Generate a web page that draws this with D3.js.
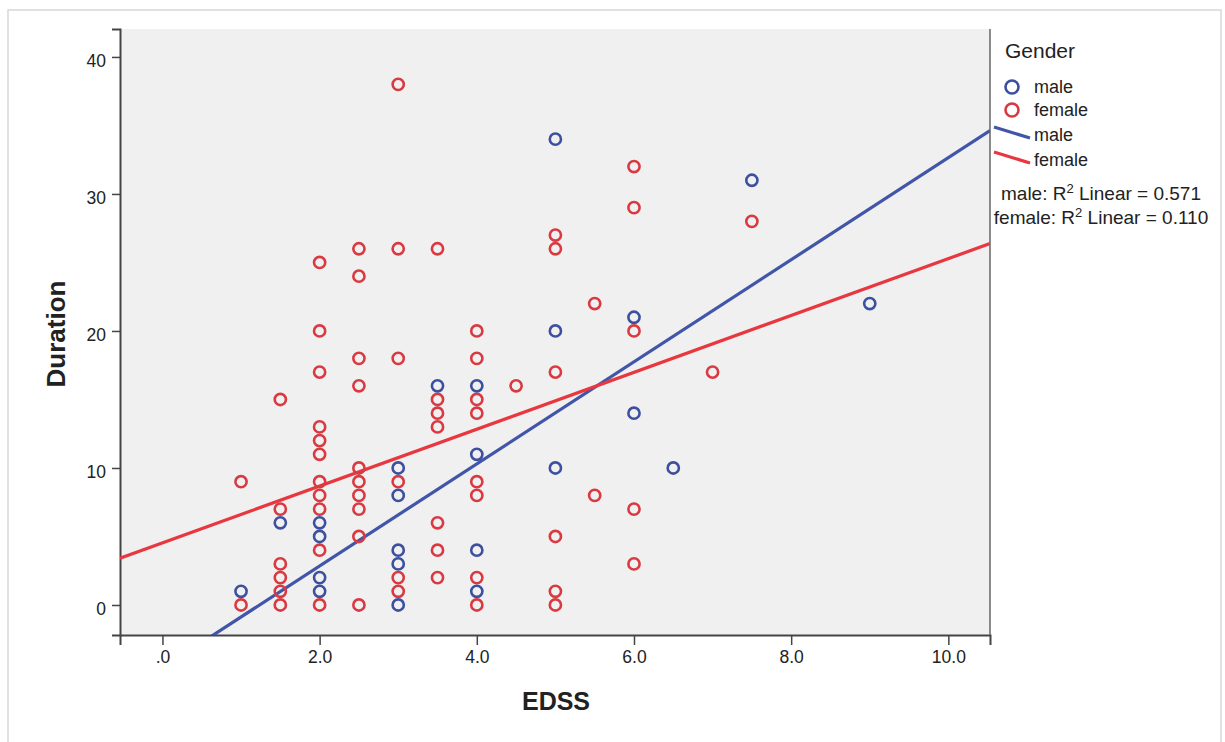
<!DOCTYPE html>
<html>
<head>
<meta charset="utf-8">
<script src="https://cdn.jsdelivr.net/npm/d3@7"></script>
<style>
  body { margin: 0; background: #fff; }
  text { font-family: "Liberation Sans", Arial, sans-serif; fill: #222; }
</style>
</head>
<body>
<div id="chart"></div>
<script>
// data
const maleEDSS     = [1, 1.5, 2, 2, 2, 2, 3, 3, 3, 3, 3, 3.5, 4, 4, 4, 4, 5, 5, 5, 6, 6, 6.5, 7.5, 9];
const maleDuration = [1, 6,   6, 5, 2, 1, 10, 8, 4, 3, 0, 16, 16, 11, 4, 1, 34, 20, 10, 21, 14, 10, 31, 22];

const femaleEDSS = [1, 1,
  1.5, 1.5, 1.5, 1.5, 1.5, 1.5,
  2, 2, 2, 2, 2, 2, 2, 2, 2, 2, 2,
  2.5, 2.5, 2.5, 2.5, 2.5, 2.5, 2.5, 2.5, 2.5, 2.5,
  3, 3, 3, 3, 3, 3,
  3.5, 3.5, 3.5, 3.5, 3.5, 3.5, 3.5,
  4, 4, 4, 4, 4, 4, 4, 4,
  4.5,
  5, 5, 5, 5, 5, 5,
  5.5, 5.5,
  6, 6, 6, 6, 6,
  7, 7.5];
const femaleDuration = [9, 0,
  15, 7, 3, 2, 1, 0,
  25, 20, 17, 13, 12, 11, 9, 8, 7, 4, 0,
  26, 24, 18, 16, 10, 9, 8, 7, 5, 0,
  38, 26, 18, 9, 2, 1,
  26, 15, 14, 13, 6, 4, 2,
  20, 18, 15, 14, 9, 8, 2, 0,
  16,
  27, 26, 17, 5, 1, 0,
  22, 8,
  32, 29, 20, 7, 3,
  17, 28];

// fit lines (intercept, slope) as drawn
const fitMale   = [-4.60, 3.725];
const fitFemale = [4.53, 2.075];

const xTicks = [0, 2, 4, 6, 8, 10];
const yTicks = [0, 10, 20, 30, 40];
const r2Labels = [["male: R", "0.571"], ["female: R", "0.110"]];

const blue = "#3d4f9f", red = "#d93a42";
const blueLine = "#4156a8", redLine = "#e8373f";

const W = 1225, H = 742;
const pLeft = 120, pRight = 990, pTop = 29, pBottom = 635;

const svg = d3.select("#chart").append("svg")
  .attr("width", W).attr("height", H);

// card frame
svg.append("rect")
  .attr("x", 8).attr("y", 10).attr("width", 1213).attr("height", 740)
  .attr("fill", "#fff").attr("stroke", "#d8d8d8").attr("stroke-width", 1.5);

const x = d3.scaleLinear().domain([-0.54, 10.53]).range([pLeft, pRight]);
const y = d3.scaleLinear().domain([-2.19, 42.04]).range([pBottom, pTop]);

svg.append("rect")
  .attr("x", pLeft).attr("y", pTop)
  .attr("width", pRight - pLeft).attr("height", pBottom - pTop)
  .attr("fill", "#f0f0f0");

svg.append("clipPath").attr("id", "clip")
  .append("rect")
  .attr("x", pLeft).attr("y", pTop)
  .attr("width", pRight - pLeft).attr("height", pBottom - pTop);

// axes
let xAxis = svg.append("g")
  .attr("transform", "translate(0," + pBottom + ")")
  .call(d3.axisBottom(x).tickValues(xTicks).tickSizeOuter(0).tickSize(10).tickPadding(6)
    .tickFormat(d => d === 0 ? ".0" : d3.format(".1f")(d)));
let yAxis = svg.append("g")
  .attr("transform", "translate(" + pLeft + ",0)")
  .call(d3.axisLeft(y).tickValues(yTicks).tickSizeOuter(0).tickSize(8).tickPadding(6));
[xAxis, yAxis].forEach(a => {
  a.select(".domain").attr("stroke", "#444").attr("stroke-width", 2);
  a.selectAll(".tick line").attr("stroke", "#444").attr("stroke-width", 1.5);
  a.selectAll(".tick text").attr("font-size", 17.5).attr("fill", "#333")
    .attr("font-family", "'Liberation Sans', Arial, sans-serif");
});
yAxis.selectAll(".tick text").attr("dy", "0.55em");
// right frame edge
svg.append("line")
  .attr("x1", pRight).attr("x2", pRight).attr("y1", pTop).attr("y2", pBottom)
  .attr("stroke", "#666").attr("stroke-width", 1.5);

svg.append("text")
  .attr("x", 556).attr("y", 710)
  .attr("text-anchor", "middle")
  .attr("font-size", 25).attr("font-weight", "bold")
  .text("EDSS");
svg.append("text")
  .attr("transform", "translate(65,334) rotate(-90)")
  .attr("text-anchor", "middle")
  .attr("font-size", 26).attr("font-weight", "bold")
  .text("Duration");

// fit lines
const plot = svg.append("g").attr("clip-path", "url(#clip)");
[[fitMale, blueLine], [fitFemale, redLine]].forEach(([f, c]) => {
  const xs = x.domain();
  plot.append("line")
    .attr("x1", x(xs[0])).attr("y1", y(f[0] + f[1] * xs[0]))
    .attr("x2", x(xs[1])).attr("y2", y(f[0] + f[1] * xs[1]))
    .attr("stroke", c).attr("stroke-width", 3.2);
});

// points
function drawPoints(xs, ys, color) {
  plot.append("g").selectAll("circle")
    .data(xs.map((v, i) => [v, ys[i]]))
    .enter().append("circle")
      .attr("cx", d => x(d[0]))
      .attr("cy", d => y(d[1]))
      .attr("r", 5.6)
      .attr("fill", "none")
      .attr("stroke", color)
      .attr("stroke-width", 2.6);
}
drawPoints(femaleEDSS, femaleDuration, red);
drawPoints(maleEDSS, maleDuration, blue);

// legend
const lg = svg.append("g");
lg.append("text").attr("x", 1005).attr("y", 58).attr("font-size", 21).attr("fill", "#444").text("Gender");
[["male", blue, 87], ["female", red, 110]].forEach(([t, c, cy]) => {
  lg.append("circle").attr("cx", 1012).attr("cy", cy).attr("r", 6.5)
    .attr("fill", "none").attr("stroke", c).attr("stroke-width", 2.6);
  lg.append("text").attr("x", 1034).attr("y", cy + 6).attr("font-size", 18).text(t);
});
[["male", blueLine, 127], ["female", redLine, 152]].forEach(([t, c, y0]) => {
  lg.append("line").attr("x1", 994).attr("y1", y0).attr("x2", 1030).attr("y2", y0 + 11)
    .attr("stroke", c).attr("stroke-width", 3.2);
  lg.append("text").attr("x", 1034).attr("y", y0 + 14).attr("font-size", 18).text(t);
});
r2Labels.forEach((t, i) => {
  const tx = lg.append("text").attr("x", 1101).attr("y", 200 + i * 24)
    .attr("text-anchor", "middle").attr("font-size", 19);
  tx.append("tspan").text(t[0]);
  tx.append("tspan").attr("dy", -7).attr("font-size", 13).text("2");
  tx.append("tspan").attr("dy", 7).text(" Linear = " + t[1]);
});
</script>
</body>
</html>
